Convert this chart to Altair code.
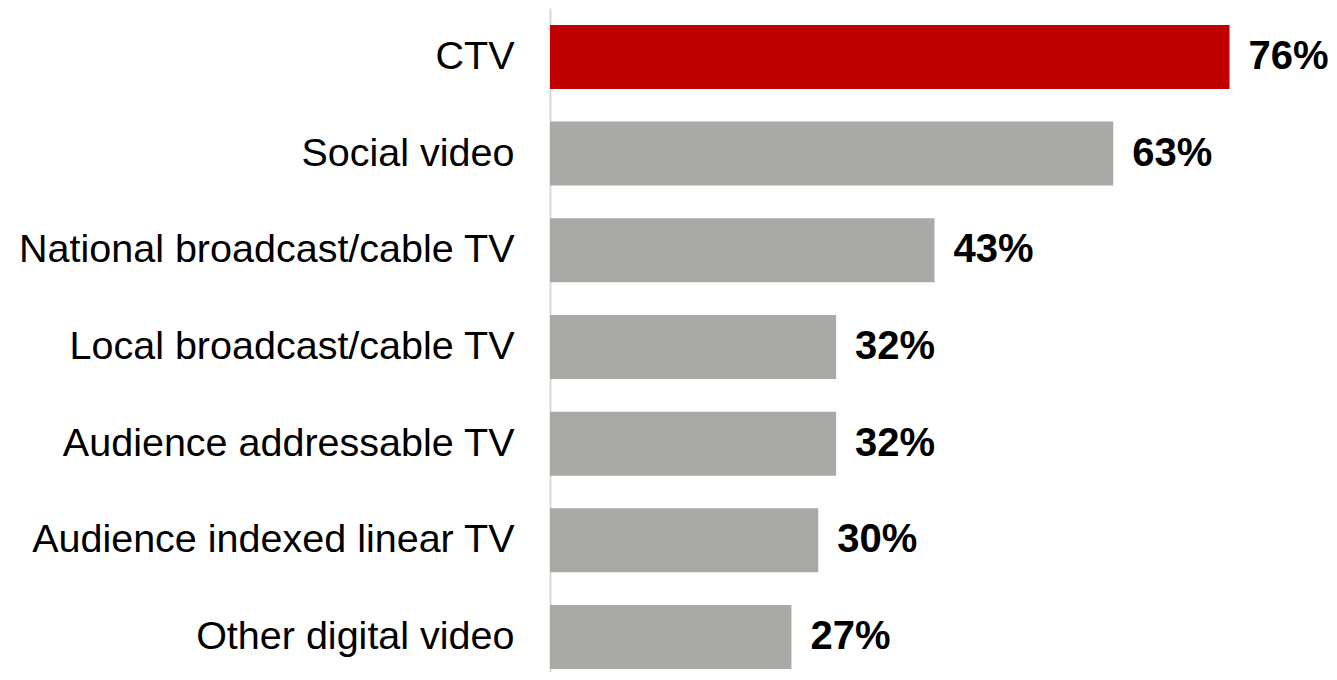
import altair as alt
import pandas as pd

categories = [
    "CTV",
    "Social video",
    "National broadcast/cable TV",
    "Local broadcast/cable TV",
    "Audience addressable TV",
    "Audience indexed linear TV",
    "Other digital video",
]
values = [76, 63, 43, 32, 32, 30, 27]
bar_colors = ["#C00000", "#A9A9A5", "#A9A9A5", "#A9A9A5", "#A9A9A5", "#A9A9A5", "#A9A9A5"]

df = pd.DataFrame({
    "category": categories,
    "value": values,
    "color": bar_colors,
    "label": [f"{v}%" for v in values],
})

FONT = "Liberation Sans"

y_enc = alt.Y(
    "category:N",
    sort=None,
    scale=alt.Scale(paddingInner=0.338, paddingOuter=0.103, align=0.85),
    axis=alt.Axis(
        title=None,
        ticks=False,
        grid=False,
        domainColor="#D9D9D9",
        domainWidth=2,
        labelFont=FONT,
        labelFontSize=39.5,
        labelColor="#000000",
        labelPadding=36,
        labelLimit=600,
        minExtent=542,
        maxExtent=542,
    ),
)
x_enc = alt.X("value:Q", axis=None, scale=alt.Scale(domain=[0, 85.0], nice=False))

bars = alt.Chart(df).mark_bar().encode(
    y=y_enc,
    x=x_enc,
    color=alt.Color("color:N", scale=None),
)

texts = alt.Chart(df).mark_text(
    align="left", baseline="middle", dx=19, font=FONT, fontSize=40, fontWeight="bold", color="#000000"
).encode(
    y=alt.Y("category:N", sort=None),
    x=x_enc,
    text="label:N",
)

chart = (
    alt.layer(bars, texts)
    .properties(width=760, height=664, padding=0)
    .configure_view(stroke=None)
)

chart.save("out.html", embed_options={"renderer": "svg", "actions": False})
